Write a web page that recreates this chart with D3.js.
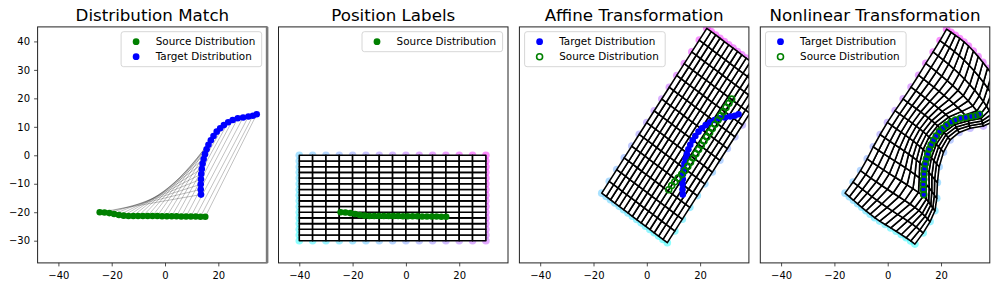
<!DOCTYPE html>
<html><head><meta charset="utf-8">
<script src="https://cdn.jsdelivr.net/npm/d3@7/dist/d3.min.js"></script>
<style>body{margin:0;background:#fff} text{font-family:"DejaVu Sans",sans-serif}</style>
</head><body><svg id="c" width="997" height="289"></svg>
<script>
const titles = ["Distribution Match", "Position Labels", "Affine Transformation", "Nonlinear Transformation"];
const xTicks = [-40, -20, 0, 20];
const yTicks = [-30, -20, -10, 0, 10, 20, 30, 40];
const sourceX = [-24.5,-22.7,-20.9,-19.1,-17.3,-15.5,-13.7,-11.9,-10.1,-8.3,-6.5,-4.7,-2.9,-1.1,0.7,2.5,4.3,6.1,7.9,9.7,11.5,13.3,15.1];
const sourceY = [-20.0,-20.1,-20.3,-20.6,-21.0,-21.2,-21.3,-21.3,-21.3,-21.3,-21.3,-21.3,-21.3,-21.4,-21.4,-21.4,-21.4,-21.5,-21.5,-21.5,-21.5,-21.6,-21.6];
const targetX = [13.5,13.4,13.4,13.5,13.6,13.8,14.1,14.5,15.0,15.6,16.3,17.2,18.2,19.4,20.7,22.1,23.7,25.4,27.3,29.3,31.3,33.0,34.4];
const targetY = [-13.8,-12.0,-10.2,-8.4,-6.6,-4.8,-3.0,-1.3,0.4,2.1,3.7,5.3,6.8,8.3,9.5,10.6,11.6,12.4,13.0,13.3,13.6,13.9,14.4];
const gridX = [-40,-35,-30,-25,-20,-15,-10,-5,0,5,10,15,20,25,30];
const gridY = [-30,-28,-26,-24,-22,-20,-18,-16,-14,-12,-10,-8,-6,-4,-2,0];
const affineM = [[0.563, -0.82], [0.827, 0.58]];
const affineT = [5.62, 19.78];
const anchorFrom = [[-40,0],[-20,0],[0,0],[15,0],[30,0],[30,-10],[-40,-15],[-40,-30],[-30,-30],[-20,-30],[-10,-30],[0,-30],[10,-30],[20,-30]];
const anchorTo   = [[-16.0,-13.3],[-5.4,3.0],[5.8,19.8],[14.3,32.3],[22.1,44.3],[30.3,38.4],[-4,-22.5],[10.2,-31.2],[15.9,-23.3],[18.4,-15.1],[19.3,-4],[23.4,5.4],[30.9,9.5],[40,12]];

const panelX0 = 37.6, panelStep = 240.9, panelW = 229.5, panelTop = 26.9, panelH = 236.0;
const xDomain = [-47.8, 38.3], yDomain = [-37.8, 45.1];
const GREEN = "#008000", BLUE = "#0000ff";
const svg = d3.select("#c");
const fmt = d => d < 0 ? "\u2212" + Math.abs(d) : String(d);
const source = sourceX.map((x, i) => [x, sourceY[i]]);
const target = targetX.map((x, i) => [x, targetY[i]]);

function U(r) { return r < 1e-12 ? 0 : r * r * Math.log(r); }
function solve(A, b) {
  const n = b.length, M = A.map((r, i) => [...r, b[i]]);
  for (let c = 0; c < n; c++) {
    let p = c;
    for (let r = c + 1; r < n; r++) if (Math.abs(M[r][c]) > Math.abs(M[p][c])) p = r;
    const tmp = M[c]; M[c] = M[p]; M[p] = tmp;
    for (let r = c + 1; r < n; r++) {
      const f = M[r][c] / M[c][c];
      for (let k = c; k <= n; k++) M[r][k] -= f * M[c][k];
    }
  }
  const x = new Array(n).fill(0);
  for (let r = n - 1; r >= 0; r--) {
    let s = M[r][n];
    for (let k = r + 1; k < n; k++) s -= M[r][k] * x[k];
    x[r] = s / M[r][r];
  }
  return x;
}
function tpsFit(src, dst, lambda) {
  const n = src.length, m = n + 3;
  const A = Array.from({length: m}, () => new Array(m).fill(0));
  for (let i = 0; i < n; i++) {
    for (let j = 0; j < n; j++)
      A[i][j] = U(Math.hypot(src[i][0] - src[j][0], src[i][1] - src[j][1])) + (i === j ? lambda : 0);
    A[i][n] = 1; A[i][n + 1] = src[i][0]; A[i][n + 2] = src[i][1];
    A[n][i] = 1; A[n + 1][i] = src[i][0]; A[n + 2][i] = src[i][1];
  }
  const wx = solve(A, [...dst.map(d => d[0]), 0, 0, 0]);
  const wy = solve(A, [...dst.map(d => d[1]), 0, 0, 0]);
  return p => {
    let X = wx[n] + wx[n + 1] * p[0] + wx[n + 2] * p[1];
    let Y = wy[n] + wy[n + 1] * p[0] + wy[n + 2] * p[1];
    for (let i = 0; i < n; i++) {
      const u = U(Math.hypot(p[0] - src[i][0], p[1] - src[i][1]));
      X += wx[i] * u; Y += wy[i] * u;
    }
    return [X, Y];
  };
}
const affine = p => [affineM[0][0] * p[0] + affineM[0][1] * p[1] + affineT[0],
                     affineM[1][0] * p[0] + affineM[1][1] * p[1] + affineT[1]];
const warp = tpsFit([...source, ...anchorFrom], [...target, ...anchorTo], 0.0);

function nodeColor(gx, gy) {
  const t = 0.75 * (gx + 40) / 70 + 0.25 * (gy + 30) / 30;
  return `rgb(${Math.round(255 * t)},${Math.round(255 * (1 - t))},255)`;
}
function drawGrid(g, x, y, tf) {
  const nodes = gridY.map(gy => gridX.map(gx => tf([gx, gy])));
  gridY.forEach((gy, j) => gridX.forEach((gx, i) => {
    const p = nodes[j][i];
    g.append("circle").attr("cx", x(p[0])).attr("cy", y(p[1])).attr("r", 3.8)
      .attr("fill", nodeColor(gx, gy)).attr("fill-opacity", 0.45);
  }));
  const cells = [];
  for (let j = 0; j < gridY.length - 1; j++)
    for (let i = 0; i < gridX.length - 1; i++)
      cells.push([nodes[j][i], nodes[j][i + 1], nodes[j + 1][i + 1], nodes[j + 1][i]]);
  g.selectAll(null).data(cells).join("path")
    .attr("d", c => "M" + c.map(p => x(p[0]) + "," + y(p[1])).join("L") + "Z")
    .attr("fill", "#fff").attr("stroke", "#000").attr("stroke-width", 1.6).attr("stroke-linejoin", "round");
}
function legend(g, items, side) {
  const bw = 140.6, bh = items.length === 1 ? 20 : 35;
  const bx = side === "right" ? panelW - 5.4 - bw : 5.2, by = 4.8;
  const lg = g.append("g").attr("transform", `translate(${bx},${by})`);
  lg.append("rect").attr("width", bw).attr("height", bh).attr("rx", 2.5)
    .attr("fill", "#fff").attr("fill-opacity", 0.8).attr("stroke", "#cccccc").attr("stroke-width", 0.8);
  items.forEach((it, k) => {
    const cy = 10 + k * 15;
    const c = lg.append("circle").attr("cx", 15).attr("cy", cy);
    if (it.hollow) c.attr("r", 3).attr("fill", "none").attr("stroke", it.color).attr("stroke-width", 1.6);
    else c.attr("r", 3.4).attr("fill", it.color);
    lg.append("text").attr("x", 34.6).attr("y", cy + 3.8).attr("font-size", "10.4px").attr("fill", "#000").text(it.label);
  });
}
titles.forEach((title, k) => {
  const g = svg.append("g").attr("transform", `translate(${panelX0 + k * panelStep},${panelTop})`);
  const x = d3.scaleLinear().domain(xDomain).range([0, panelW]);
  const y = d3.scaleLinear().domain(yDomain).range([panelH, 0]);
  const clipId = "clip" + k;
  g.append("clipPath").attr("id", clipId).append("rect").attr("width", panelW).attr("height", panelH);
  const plot = g.append("g").attr("clip-path", `url(#${clipId})`);
  if (k === 0) {
    plot.selectAll(null).data(source).join("line")
      .attr("x1", d => x(d[0])).attr("y1", d => y(d[1]))
      .attr("x2", (d, i) => x(target[i][0])).attr("y2", (d, i) => y(target[i][1]))
      .attr("stroke", "#000").attr("stroke-opacity", 0.35).attr("stroke-width", 0.7);
    plot.selectAll(null).data(source).join("circle").attr("cx", d => x(d[0])).attr("cy", d => y(d[1])).attr("r", 3.3).attr("fill", GREEN);
    plot.selectAll(null).data(target).join("circle").attr("cx", d => x(d[0])).attr("cy", d => y(d[1])).attr("r", 3.3).attr("fill", BLUE);
    legend(g, [{label: "Source Distribution", color: GREEN}, {label: "Target Distribution", color: BLUE}], "right");
  } else if (k === 1) {
    drawGrid(plot, x, y, p => p);
    plot.selectAll(null).data(source).join("circle").attr("cx", d => x(d[0])).attr("cy", d => y(d[1])).attr("r", 3.3).attr("fill", GREEN);
    legend(g, [{label: "Source Distribution", color: GREEN}], "right");
  } else {
    const tf = k === 2 ? affine : warp;
    drawGrid(plot, x, y, tf);
    plot.selectAll(null).data(target).join("circle").attr("cx", d => x(d[0])).attr("cy", d => y(d[1])).attr("r", 3.3).attr("fill", BLUE);
    plot.selectAll(null).data(source.map(tf)).join("circle").attr("cx", d => x(d[0])).attr("cy", d => y(d[1])).attr("r", 3)
      .attr("fill", "none").attr("stroke", GREEN).attr("stroke-width", 1.6);
    legend(g, [{label: "Target Distribution", color: BLUE}, {label: "Source Distribution", color: GREEN, hollow: true}], "left");
  }
  g.append("rect").attr("width", panelW).attr("height", panelH).attr("fill", "none").attr("stroke", "#222").attr("stroke-width", 1);
  if (k === 0) g.append("line").attr("x1", panelW).attr("x2", panelW).attr("y1", 0).attr("y2", panelH).attr("stroke", "#7a7a7a").attr("stroke-width", 2.6);
  const xa = g.append("g").attr("transform", `translate(0,${panelH})`)
    .call(d3.axisBottom(x).tickValues(xTicks).tickSize(3.5).tickPadding(5.5).tickFormat(fmt));
  xa.select(".domain").remove();
  xa.selectAll("text").attr("font-size", "10px").attr("font-family", "DejaVu Sans").attr("fill", "#000");
  xa.selectAll("line").attr("stroke", "#222").attr("stroke-width", 0.8);
  if (k === 0) {
    const ya = g.append("g").call(d3.axisLeft(y).tickValues(yTicks).tickSize(3.5).tickPadding(4.1).tickFormat(fmt));
    ya.select(".domain").remove();
    ya.selectAll("text").attr("font-size", "10px").attr("font-family", "DejaVu Sans").attr("fill", "#000");
    ya.selectAll("line").attr("stroke", "#222").attr("stroke-width", 0.8);
  }
  g.append("text").attr("x", panelW / 2).attr("y", 20.8 - panelTop).attr("text-anchor", "middle")
    .attr("font-size", "16.7px").attr("fill", "#000").text(title);
});
</script></body></html>
